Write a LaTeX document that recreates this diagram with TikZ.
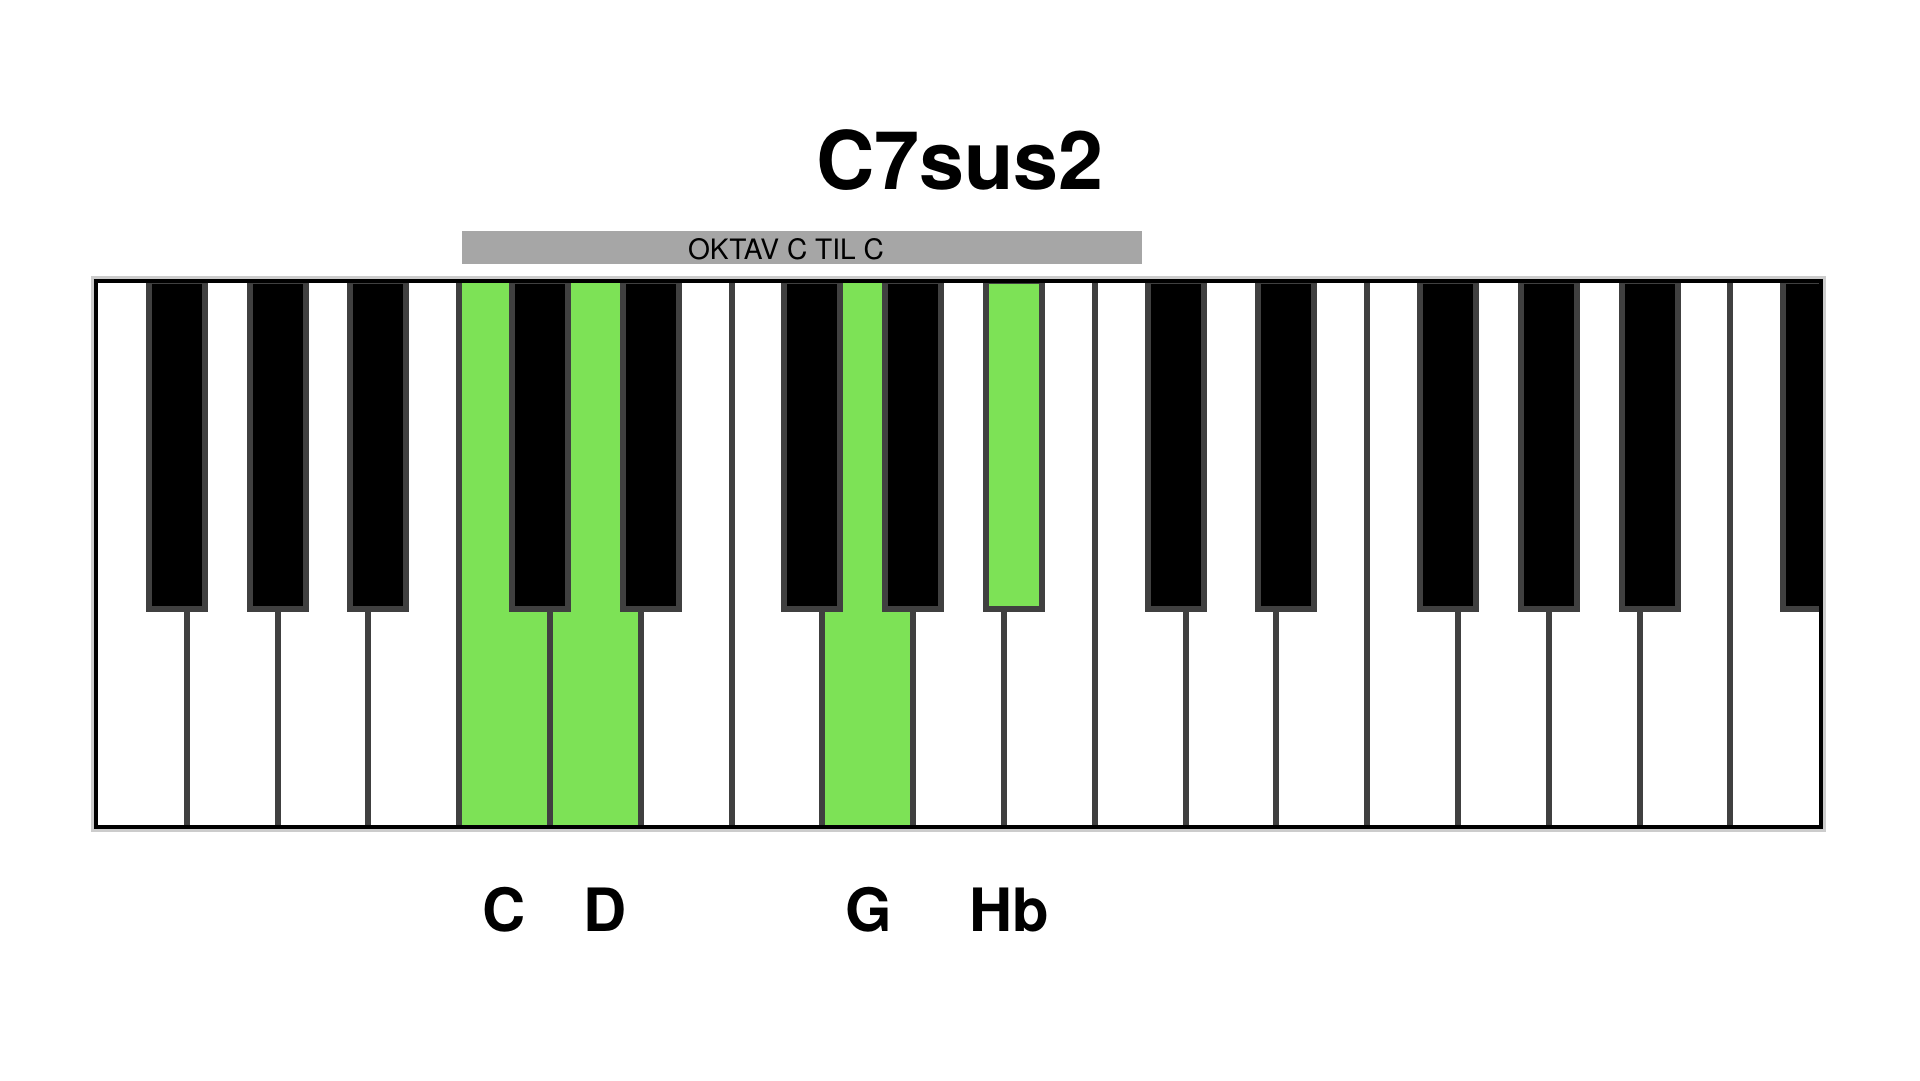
\documentclass[tikz,border=0pt]{standalone}
\usepackage{fontspec}
\setmainfont{TeX Gyre Heros}
\definecolor{keygreen}{RGB}{125,226,86}
\definecolor{keyedge}{RGB}{64,64,64}
\definecolor{bargray}{RGB}{166,166,166}

\begin{document}
\begin{tikzpicture}[
    x=0.1mm, y=-0.1mm,
    divider/.style = {draw=keyedge, line width=1.7pt},
    blackkey/.style = {draw=keyedge, line width=1.7pt},
    bar/.style = {fill=bargray, inner sep=0pt, minimum width=68mm, minimum height=3.3mm},
    title/.style = {anchor=base, font=\bfseries\fontsize{23}{28}\selectfont},
    bartext/.style = {anchor=base, font=\fontsize{8}{10}\selectfont},
    notename/.style = {anchor=base, font=\bfseries\fontsize{17}{20}\selectfont}
]
    \useasboundingbox (0,0) rectangle (1920,1080);
    \def\kw{90.8}

    \node[title] (chord) at (960,189) {C7sus2};
    \node[bar] (octave) at (802,247) {};
    \node[bartext] (octavetext) at (786,259) {OKTAV C TIL C};

    % white keys
    \draw[black!20, line width=2.6pt] (96,281) rectangle (1821,827);
    \fill[white] (96,281) rectangle (1821,827);
    \foreach \k in {4,5,8}
        \fill[keygreen] ({96+\k*\kw},281) rectangle ++(\kw,546);
    \foreach \k in {1,...,18}
        \draw[divider] ({96+\k*\kw},281) -- ({96+\k*\kw},827);

    % black keys
    \begin{scope}
        \clip (96,281) rectangle (1821,827);
        \foreach \k/\o/\c in {1/38/black, 2/28/black, 3/18/black, 5/38/black, 6/18/black,
                8/38/black, 9/28/black, 10/18/keygreen, 12/38/black, 13/18/black,
                15/38/black, 16/28/black, 17/18/black, 19/38/black}
            \draw[blackkey, fill=\c] ({96+\k*\kw-\o},281) rectangle ++(56,328);
    \end{scope}

    \draw[black, line width=1.2pt] (96,281) rectangle (1821,827);

    \node[notename] (c) at (504,931) {C};
    \node[notename] (d) at (605,931) {D};
    \node[notename] (g) at (869,931) {G};
    \node[notename] (hb) at (1009,931) {Hb};
\end{tikzpicture}
\end{document}
